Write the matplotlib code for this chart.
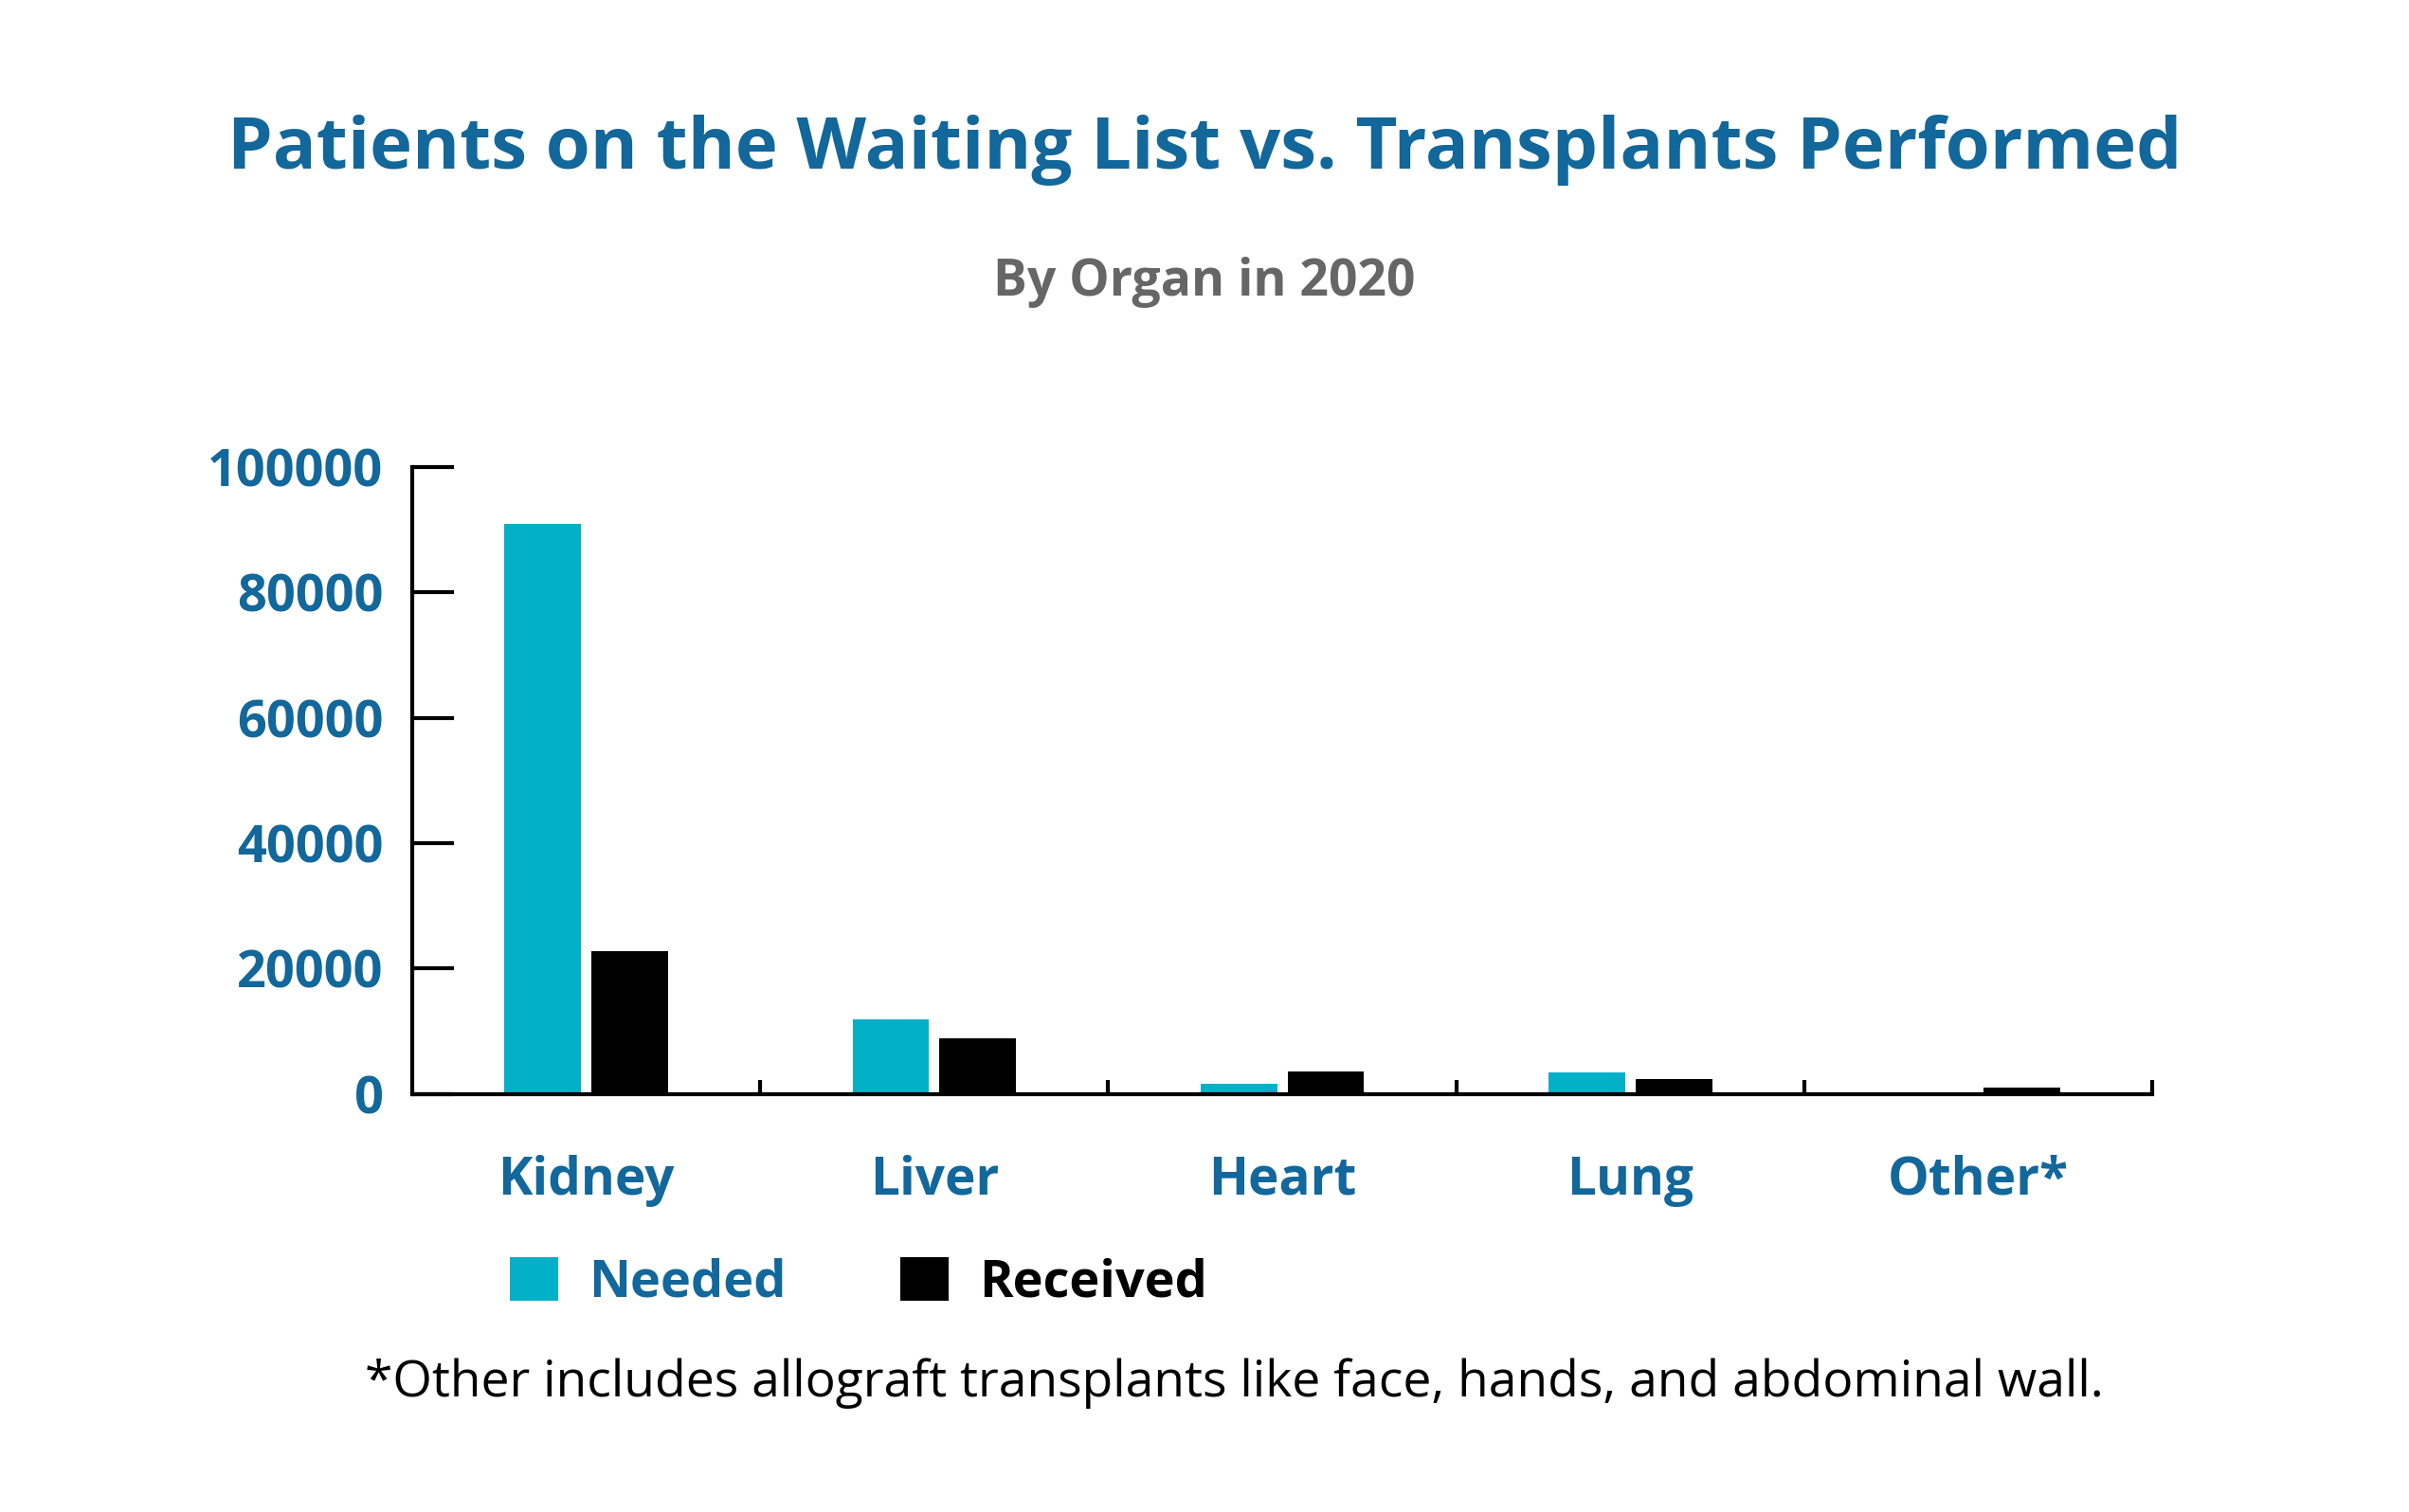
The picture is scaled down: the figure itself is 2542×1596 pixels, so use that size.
import numpy as np
import matplotlib.pyplot as plt
from matplotlib.patches import Patch

# values
organs = ['Kidney', 'Liver', 'Heart', 'Lung', 'Other*']
needed = [91000, 11900, 1600, 3400, 300]
received = [22800, 8900, 3600, 2400, 1000]
y_ticks = [0, 20000, 40000, 60000, 80000, 100000]

blue = '#12679b'
teal = '#02b0c7'

plt.rcParams['font.family'] = ['Open Sans', 'DejaVu Sans']

fig = plt.figure(figsize=(25.42, 15.96), dpi=100)
ax = fig.add_axes([0.1711, 0.2765, 0.8935 - 0.1711, 0.691 - 0.2765])

x = np.arange(len(organs))
w = 0.22
ax.bar(x - 0.125, needed, width=w, color=teal)
ax.bar(x + 0.125, received, width=w, color='black')

ax.set_xlim(-0.5, 4.5)
ax.set_ylim(0, 100000)
ax.spines['top'].set_visible(False)
ax.spines['right'].set_visible(False)
ax.spines['left'].set_linewidth(3)
ax.spines['bottom'].set_linewidth(3)

ax.set_yticks(y_ticks)
ax.set_yticklabels([str(v) for v in y_ticks])
ax.tick_params(axis='y', direction='in', length=32, width=3, pad=22,
               labelsize=39, labelcolor=blue)
for lab in ax.get_yticklabels():
  lab.set_fontweight('bold')

ax.set_xticks(x)
ax.set_xticklabels(organs)
ax.tick_params(axis='x', which='major', length=0, pad=46, labelsize=39.5, labelcolor=blue)
for lab in ax.get_xticklabels():
  lab.set_fontweight('bold')
ax.set_xticks(np.arange(0.5, 5, 1), minor=True)
ax.tick_params(axis='x', which='minor', direction='in', length=11, width=3)

fig.text(0.5, 1 - 158 / 1596, 'Patients on the Waiting List vs. Transplants Performed',
         ha='center', va='center', fontsize=54.8, fontweight='bold', color=blue)
fig.text(0.5, 1 - 298 / 1596, 'By Organ in 2020', ha='center', va='center',
         fontsize=38.5, fontweight='bold', color='#666666')

handles = [Patch(facecolor=teal), Patch(facecolor='black')]
leg = fig.legend(handles, ['Needed', 'Received'], loc='center left',
                 bbox_to_anchor=(489 / 2542, 1 - 1354 / 1596), ncol=2, frameon=False,
                 prop={'size': 39, 'weight': 'bold'}, handlelength=0.94,
                 handleheight=0.94, handletextpad=0.6, columnspacing=2.22)
leg.get_texts()[0].set_color(blue)
leg.get_texts()[1].set_color('black')

fig.text(1302 / 2542, 1 - 1460 / 1596,
         '*Other includes allograft transplants like face, hands, and abdominal wall.',
         ha='center', va='center', fontsize=38.4, color='black')

fig.savefig('out.png', dpi=100)
